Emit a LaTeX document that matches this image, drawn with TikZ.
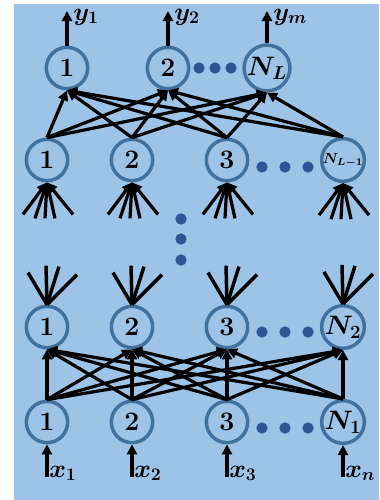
\RequirePackage{fix-cm}
\documentclass[tikz,border=0pt]{standalone}
\usepackage{amsmath,bm}
\usetikzlibrary{arrows.meta,calc}
\definecolor{panel}{HTML}{9DC3E6}
\definecolor{ring}{HTML}{41719C}
\definecolor{dotc}{HTML}{2F5597}
\begin{document}
\begin{tikzpicture}[x=0.75pt,y=-0.75pt,
  neuron/.style={circle,draw=ring,line width=2.6pt,fill=panel,inner sep=0pt,
    minimum size=31pt,font=\fontsize{20}{23}\selectfont\bfseries},
  link/.style={line width=2.4pt,-{Triangle[length=7.5pt,width=7.5pt]}},
  plainlink/.style={line width=2.6pt},
  bead/.style={circle,fill=dotc,inner sep=0pt,minimum size=8.5pt},
  lab/.style={anchor=base west,inner sep=0pt,font=\fontsize{19}{22}\selectfont}]

\useasboundingbox (0,0) rectangle (379,500);
\fill[panel] (14,4) rectangle (379,500);

% first hidden layer
\foreach \n/\x in {1/47,2/132,3/227} \node[neuron] (a\n) at (\x,422) {\n};
\node[neuron] (a4) at (343,422) {$\bm{N_1}$};
% second hidden layer
\foreach \n/\x in {1/47,2/132,3/227} \node[neuron] (b\n) at (\x,327) {\n};
\node[neuron] (b4) at (343,327) {$\bm{N_2}$};
% layer L-1
\foreach \n/\x in {1/47,2/132,3/227} \node[neuron] (c\n) at (\x,160) {\n};
\node[neuron,font=\fontsize{11}{12}\selectfont\bfseries] (c4) at (343,160) {$\bm{N_{L-1}}$};
% output layer
\node[neuron] (d1) at (67,68) {1};
\node[neuron] (d2) at (168,68) {2};
\node[neuron] (d3) at (267,68) {$\bm{N_L}$};

% ellipsis dots
\foreach \x [count=\i] in {262,285,308} {
  \node[bead] (pa\i) at (\x,428) {};
  \node[bead] (pb\i) at (\x,332) {};
  \node[bead] (pc\i) at (\x,167) {};
}
\foreach \x [count=\i] in {199,215,231} \node[bead] (pd\i) at (\x,68) {};
\foreach \y [count=\i] in {219,239,260} \node[bead] (pv\i) at (181,\y) {};

% full connections between the first two layers
\foreach \i in {1,...,4} \foreach \j in {1,...,4}
  \draw[link] (a\i.north) -- (b\j.south);
% full connections into the output layer
\foreach \i in {1,...,4} \foreach \j in {1,2,3}
  \draw[link] (c\i.north) -- (d\j.south);

% incoming fans of layer L-1
\foreach \k in {1,...,4}
  \foreach \dx/\dy [count=\m] in {-24/32,-12/36,-2/36,8/36,26/32} {
    \coordinate (f\k\m) at ($(c\k.south)+(\dx,\dy)$);
    \draw[link] (f\k\m) -- (c\k.south);
  }
% outgoing fans of the second layer
\foreach \k in {1,...,4}
  \foreach \dx/\dy [count=\m] in {-19/-32,-1/-39,12/-38,30/-30} {
    \coordinate (g\k\m) at ($(b\k.north)+(\dx,\dy)$);
    \draw[plainlink] (b\k.north) -- (g\k\m);
  }

% inputs
\foreach \k/\x/\t in {1/47/x_1,2/132/x_2,3/227/x_3,4/343/x_n} {
  \coordinate (x\k) at (\x,477);
  \draw[link] (x\k) -- (a\k.south);
  \node[lab] (lx\k) at (\x+2,477) {$\bm{\t}$};
}
% outputs
\foreach \k/\x/\t in {1/67/y_1,2/168/y_2,3/267/y_m} {
  \coordinate (y\k) at (\x,11);
  \draw[link] (d\k.north) -- (y\k);
  \node[lab] (ly\k) at (\x+6,20) {$\bm{\t}$};
}
\end{tikzpicture}
\end{document}
